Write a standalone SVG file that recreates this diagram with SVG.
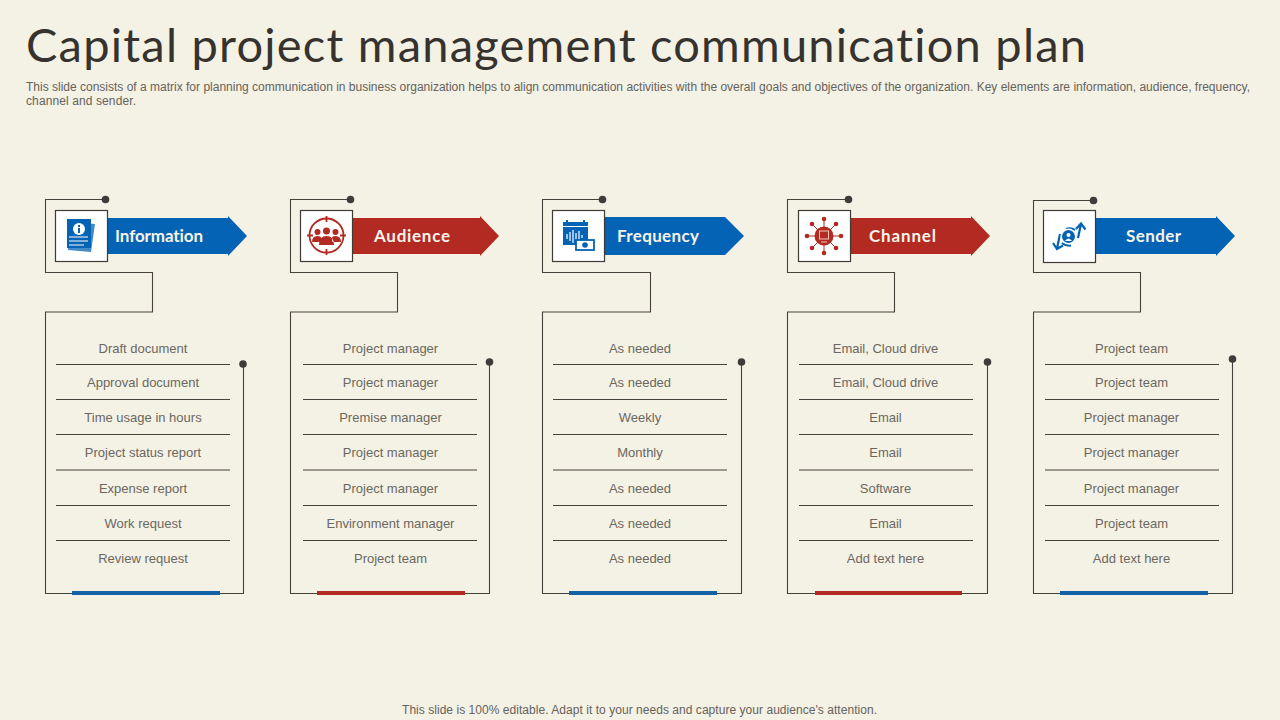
<svg xmlns="http://www.w3.org/2000/svg" width="1280" height="720" viewBox="0 0 1280 720" xml:space="preserve">
<style>
text{font-variant-ligatures:none}
.bg{fill:#f4f1e5}
.ln{fill:none;stroke:#47423c;stroke-width:1.1}
.dot{fill:#3f3d3b}
.box{fill:#fff;stroke:#3f3a34;stroke-width:1.2}
.blue{fill:#0563b5}
.red{fill:#b22a22}
.t{font-family:"Liberation Sans",Arial,sans-serif;font-size:13px;fill:#6b6860;text-anchor:middle}
.h{font-family:"Lato","Liberation Sans",sans-serif;font-size:17px;font-weight:700;fill:#f6f4ea;text-anchor:middle}
.d{font-family:"Liberation Sans",Arial,sans-serif;font-size:12px;fill:#66635c}
.sw{fill:none;stroke:#fff;stroke-width:1.2}
.ib{fill:none;stroke:#0563b5;stroke-width:2.2}
.ir{fill:none;stroke:#b22a22;stroke-width:1.8}
.spoke{fill:none;stroke:#b22a22;stroke-width:1}
</style>
<rect class="bg" width="1280" height="720"/>
<text x="26" y="62" font-family="Lato,'Liberation Sans',sans-serif" font-weight="400" font-size="47" fill="#36332f" textLength="1060" lengthAdjust="spacing">Capital project management communication plan</text>
<text class="d" x="26" y="91" textLength="1224" lengthAdjust="spacing">This slide consists of a matrix for planning communication in business organization helps to align communication activities with the overall goals and objectives of the organization. Key elements are information, audience, frequency,</text>
<text class="d" x="26" y="105" textLength="110" lengthAdjust="spacing">channel and sender.</text>

<g id="connectors">
<path class="ln" d="M105 199.500H45.500V272.500H152.500V312H45.500V593.500H243.500V364"/>
<path class="ln" d="M350 199.500H290.500V272.500H397.500V312H290.500V593.500H489.500V362"/>
<path class="ln" d="M602 199.500H542.500V272.500H650.500V312H542.500V593.500H741.500V362"/>
<path class="ln" d="M848 199.500H787.500V272.500H894.500V312H787.500V593.500H987.500V362"/>
<path class="ln" d="M1093 200.500H1033.500V272.500H1140.500V312H1033.500V593.500H1232.500V359"/>
</g>

<g id="col-information">
<circle class="dot" cx="105.500" cy="199.500" r="3.800"/><circle class="dot" cx="243" cy="364" r="3.800"/>
<path class="blue" d="M107 218H228V216L247 236L228 256V254H107Z"/>
<rect class="box" x="55.500" y="210.500" width="52" height="51"/>
<path class="blue" d="M70 222L95 224L91 252L68 250Z" opacity=".75"/>
<rect class="blue" x="67" y="219" width="24" height="29"/>
<circle cx="79" cy="229" r="6" fill="#fff"/><rect class="blue" x="78" y="228" width="2" height="5"/><rect class="blue" x="78" y="225" width="2" height="2"/>
<path class="sw" d="M69 237H88M69 241H88M69 245H84"/>
<text class="h" x="159" y="242" textLength="88" lengthAdjust="spacing">Information</text>
<g class="t"><text x="143" y="353">Draft  document</text><text x="143" y="387">Approval  document</text><text x="143" y="422">Time usage  in hours</text><text x="143" y="457">Project status report</text><text x="143" y="493">Expense report</text><text x="143" y="528">Work request</text><text x="143" y="563">Review  request</text></g>
<path class="ln" d="M56 364.500H230M56 399.500H230M56 434.500H230M56 470H230M56 505.500H230M56 540.500H230"/>
<rect x="72" y="591" width="148" height="4" fill="#1262a5"/>
</g>

<g id="col-audience">
<circle class="dot" cx="350.500" cy="199.500" r="3.800"/><circle class="dot" cx="489.500" cy="362" r="3.800"/>
<path class="red" d="M352 218H480V216L499 236L480 256V254H352Z"/>
<rect class="box" x="300.500" y="210.500" width="52" height="51"/>
<circle class="ir" cx="326.500" cy="235.500" r="17"/>
<path class="ir" d="M326.500 216V222M326.500 249V255M307 235.500H313M340 235.500H346"/>
<g class="red"><circle cx="317.500" cy="232" r="3"/><circle cx="335.500" cy="232" r="3"/><circle cx="326.500" cy="231" r="3.500"/><path d="M312 242Q312 236 317.500 236Q321 236 321 238Q321 242 320 242ZM341 242Q341 236 335.500 236Q332 236 332 238Q332 242 333 242ZM319 245Q319 236 326.500 236Q334 236 334 245Z"/></g>
<text class="h" x="412" y="242" textLength="76" lengthAdjust="spacing">Audience</text>
<g class="t"><text x="390.500" y="353">Project manager</text><text x="390.500" y="387">Project manager</text><text x="390.500" y="422">Premise manager</text><text x="390.500" y="457">Project manager</text><text x="390.500" y="493">Project manager</text><text x="390.500" y="528">Environment  manager</text><text x="390.500" y="563">Project team</text></g>
<path class="ln" d="M303 364.500H477M303 399.500H477M303 434.500H477M303 470H477M303 505.500H477M303 540.500H477"/>
<rect x="317" y="591" width="148" height="4" class="red"/>
</g>

<g id="col-frequency">
<circle class="dot" cx="602.500" cy="199.500" r="3.800"/><circle class="dot" cx="741.500" cy="362" r="3.800"/>
<path class="blue" d="M604 217H725L744 236L725 255H604Z"/>
<rect class="box" x="552.500" y="210.500" width="52" height="51"/>
<rect class="blue" x="563" y="222" width="25" height="23"/>
<path class="blue" d="M566 220h2v4h-2zM583 220h2v4h-2z"/>
<path class="sw" d="M563 226.500H588M567 234V239M570 232V241M573 230V243M576 233V240M579 231V242M582 235V238"/>
<rect x="576" y="240" width="18" height="10" fill="#fff" stroke="#0563b5" stroke-width="1.800"/>
<circle class="blue" cx="585" cy="245" r="2.800"/>
<text class="h" x="658" y="242" textLength="82" lengthAdjust="spacing">Frequency</text>
<g class="t"><text x="640" y="353">As needed</text><text x="640" y="387">As needed</text><text x="640" y="422">Weekly</text><text x="640" y="457">Monthly</text><text x="640" y="493">As needed</text><text x="640" y="528">As needed</text><text x="640" y="563">As needed</text></g>
<path class="ln" d="M553 364.500H727M553 399.500H727M553 434.500H727M553 470H727M553 505.500H727M553 540.500H727"/>
<rect x="569" y="591" width="148" height="4" fill="#1262a5"/>
</g>

<g id="col-channel">
<circle class="dot" cx="848.500" cy="199.500" r="3.800"/><circle class="dot" cx="987.500" cy="362" r="3.800"/>
<path class="red" d="M851 218H971V216L990 236L971 256V254H851Z"/>
<rect class="box" x="798.500" y="210.500" width="52" height="51"/>
<path class="spoke" d="M824 219V253M807 236H841M812 224L836 248M836 224L812 248"/>
<circle class="red" cx="824" cy="236" r="9.500"/>
<rect x="819.500" y="231" width="9" height="8" fill="none" stroke="#f0c8b8" stroke-width="1"/>
<path d="M821 242H827" fill="none" stroke="#f0c8b8" stroke-width="1"/>
<g class="red"><circle cx="824" cy="219" r="2.300"/><circle cx="824" cy="253" r="2.300"/><circle cx="807" cy="236" r="2.300"/><circle cx="841" cy="236" r="2.300"/><circle cx="812" cy="224" r="2.300"/><circle cx="836" cy="224" r="2.300"/><circle cx="812" cy="248" r="2.300"/><circle cx="836" cy="248" r="2.300"/></g>
<text class="h" x="902.500" y="242" textLength="67" lengthAdjust="spacing">Channel</text>
<g class="t"><text x="885.500" y="353">Email, Cloud drive</text><text x="885.500" y="387">Email, Cloud drive</text><text x="885.500" y="422">Email</text><text x="885.500" y="457">Email</text><text x="885.500" y="493">Software</text><text x="885.500" y="528">Email</text><text x="885.500" y="563">Add text here</text></g>
<path class="ln" d="M799 364.500H973M799 399.500H973M799 434.500H973M799 470H973M799 505.500H973M799 540.500H973"/>
<rect x="815" y="591" width="147" height="4" class="red"/>
</g>

<g id="col-sender">
<circle class="dot" cx="1093.500" cy="200.500" r="3.800"/><circle class="dot" cx="1232.500" cy="359" r="3.800"/>
<path class="blue" d="M1095 218H1216V216L1235 236L1216 256V254H1095Z"/>
<rect class="box" x="1043.500" y="210.500" width="52" height="52"/>
<path class="ib" d="M1060 234L1057 248.500M1053 243L1057 249L1063 245.500M1078 238L1081 224M1076 229L1081 223.500L1085.500 229.500M1062 243Q1066 246 1071 245.500M1075 230Q1071 227.500 1066 229"/>
<circle cx="1068.500" cy="236.500" r="8" fill="#fff"/>
<circle class="blue" cx="1068.500" cy="236.500" r="6.500"/><circle cx="1068.500" cy="235" r="2" fill="#fff"/><path d="M1065 241Q1068.500 236 1072 241Z" fill="#fff"/>
<text class="h" x="1153.500" y="242" textLength="55" lengthAdjust="spacing">Sender</text>
<g class="t"><text x="1131.500" y="353">Project team</text><text x="1131.500" y="387">Project team</text><text x="1131.500" y="422">Project manager</text><text x="1131.500" y="457">Project manager</text><text x="1131.500" y="493">Project manager</text><text x="1131.500" y="528">Project team</text><text x="1131.500" y="563">Add text here</text></g>
<path class="ln" d="M1045 364.500H1219M1045 399.500H1219M1045 434.500H1219M1045 470H1219M1045 505.500H1219M1045 540.500H1219"/>
<rect x="1060" y="591" width="148" height="4" fill="#1262a5"/>
</g>

<text class="d" x="639.500" y="714" text-anchor="middle" textLength="475" lengthAdjust="spacing">This slide is 100% editable. Adapt it to your needs and capture your audience's attention.</text>
</svg>
